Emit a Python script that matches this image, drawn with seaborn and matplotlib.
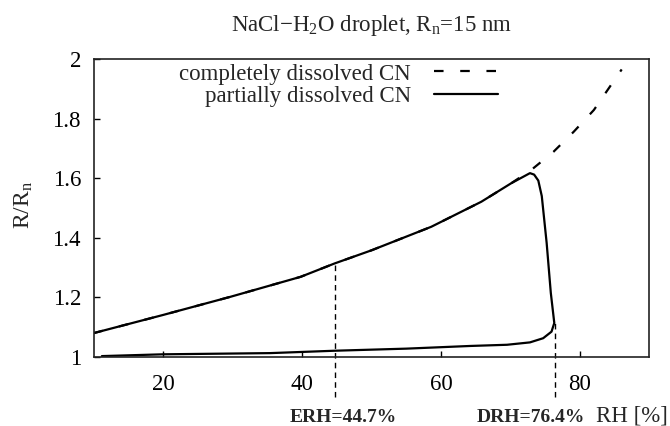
import matplotlib
matplotlib.use('Agg')
import seaborn as sns
import numpy as np
import pandas as pd
import matplotlib.pyplot as plt
from matplotlib.ticker import FuncFormatter

# completely dissolved CN (upper branch, continues past DRH)
complete_rh = [10, 20, 29.7, 39.8, 44.7, 50, 58.6, 65.8, 70.1, 73.0, 76.2, 79.1, 82.0, 86.0]
complete_r = [1.080, 1.141, 1.202, 1.269, 1.314, 1.358, 1.437, 1.521, 1.583, 1.628, 1.689, 1.756, 1.829, 1.965]

# partially dissolved CN (hysteresis loop, lower branch then back along upper)
partial_rh = [11.2, 20, 35.4, 44.7, 55, 64.2, 69.5, 72.8, 74.7, 75.9, 76.3,
              75.8, 75.2, 74.5, 74.0, 73.4, 72.8, 70.1, 65.8, 58.6, 50, 44.7, 39.8, 29.7, 20, 10]
partial_r = [1.003, 1.009, 1.013, 1.021, 1.028, 1.037, 1.041, 1.049, 1.063, 1.085, 1.114,
             1.215, 1.383, 1.540, 1.592, 1.612, 1.617, 1.583, 1.521, 1.437, 1.358, 1.314, 1.269, 1.202, 1.141, 1.080]

erh = 44.7
drh = 76.4
erh_r = 1.314
drh_r = 1.114

sns.set_style('ticks')
plt.rcParams['font.family'] = ['Liberation Serif', 'DejaVu Serif']
plt.rcParams['mathtext.fontset'] = 'custom'
plt.rcParams['mathtext.rm'] = 'Liberation Serif'
plt.rcParams['mathtext.it'] = 'Liberation Serif:italic'
plt.rcParams['mathtext.bf'] = 'Liberation Serif:bold'

fig = plt.figure(figsize=(6.7, 4.26), dpi=100)
ax = fig.add_axes([0.1396, 0.162, 0.8298, 0.6995])

df_c = pd.DataFrame({'RH': complete_rh, 'R': complete_r})
df_p = pd.DataFrame({'RH': partial_rh, 'R': partial_r})

sns.lineplot(data=df_c, x='RH', y='R', ax=ax, sort=False, estimator=None, color='black',
             lw=1.6, label='completely dissolved CN')
ax.lines[-1].set_dashes((4.3, 7.5))
sns.lineplot(data=df_p, x='RH', y='R', ax=ax, sort=False, estimator=None, color='black',
             lw=1.6, label='partially dissolved CN')

# ERH / DRH markers reaching below the axis
for xv, top in [(erh, erh_r), (drh, drh_r)]:
    ax.plot([xv, xv], [0.866, top], color='black', lw=1.0, ls=(0, (4, 3)), clip_on=False)

ax.set_xlim(10, 90)
ax.set_ylim(1, 2)
ax.set_xticks([20, 40, 60, 80])
ax.set_yticks([1, 1.2, 1.4, 1.6, 1.8, 2])
ax.yaxis.set_major_formatter(FuncFormatter(lambda v, p: '%g' % v))
ax.tick_params(direction='in', length=4, width=1, labelsize=16.5, colors='black')
ax.tick_params(axis='x', pad=12)
ax.tick_params(axis='y', pad=9)
for s in ax.spines.values():
    s.set_visible(True)
    s.set_linewidth(1.2)
    s.set_color('#222222')

ax.set_xlabel('')
ax.set_ylabel(r'R/R$_\mathrm{n}$', fontsize=17)
ax.yaxis.set_label_coords(-0.105, 0.51)
ax.set_title(r'NaCl$-$H$_2$O droplet, R$_\mathrm{n}$=15 nm', fontsize=16.5, pad=20)

trans = ax.get_xaxis_transform()
ax.text(46.0, -0.218, 'ERH=44.7%', transform=trans, ha='center', va='baseline',
        fontsize=14, fontweight='bold')
ax.text(72.9, -0.218, 'DRH=76.4%', transform=trans, ha='center', va='baseline',
        fontsize=14, fontweight='bold')
ax.text(87.5, -0.218, 'RH [%]', transform=trans, ha='center', va='baseline', fontsize=16.5)

leg = ax.legend(loc='upper right', bbox_to_anchor=(0.7275, 0.985), frameon=False,
                markerfirst=False, fontsize=16.5, handlelength=2.8, handletextpad=1.0,
                labelspacing=0.08, borderpad=0, borderaxespad=0)

fig.savefig('out.png', dpi=100)
